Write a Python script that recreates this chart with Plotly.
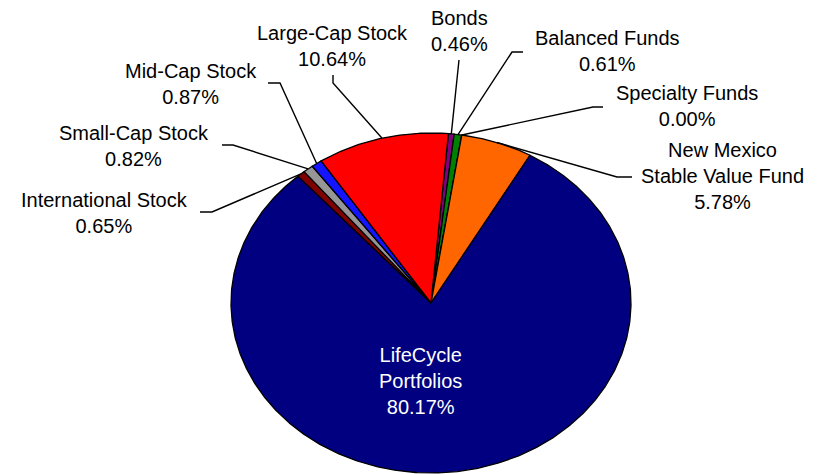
import math
import plotly.graph_objects as go

# ---- data (clockwise from the top) ----
categories = ["Bonds", "Balanced Funds", "Specialty Funds",
              "New Mexico<br>Stable Value Fund", "LifeCycle<br>Portfolios",
              "International Stock", "Small-Cap Stock", "Mid-Cap Stock",
              "Large-Cap Stock"]
values = [0.46, 0.61, 0.00, 5.78, 80.17, 0.65, 0.82, 0.87, 10.64]
colors = ["#800080", "#008000", "#FFFF00", "#FF6600", "#000080",
          "#800000", "#969696", "#1414FF", "#FF0000"]

# ---- layout / style ----
W, H = 817, 474
OFF = 8  # page body margin
CX, CY, RX, RY = 431, 303, 200, 170
START = 5.0  # degrees clockwise from 12 o'clock
FONT = "Liberation Sans, Arial, sans-serif"
FS = 20

# label text centres and leader-line start/elbow points (page pixel space)
label_pos = [(459, 31), (607, 51), (687, 105.5), (722, 176), (420, 381),
             (104, 212.5), (134, 145.5), (191, 84), (332, 45.5)]
leader = [[(459, 60)], [(523, 52), (512, 52)], [(603, 107), (593, 107)],
          [(632, 177), (617, 177)], None,
          [(200, 212), (212, 212)], [(222, 145), (233, 145)],
          [(268, 83), (280, 83)], [(333, 75), (333, 83)]]


def pt(deg):
    r = math.radians(deg)
    return CX + RX * math.sin(r), CY - RY * math.cos(r)


fig = go.Figure()
total = sum(values)
a = START
mids = []
for name, v, c in zip(categories, values, colors):
    span = v / total * 360.0
    a0, a1 = a, a + span
    mids.append((a0 + a1) / 2)
    n = max(2, int(span / 0.5) + 1)
    xs, ys = [CX], [CY]
    for i in range(n + 1):
        x, y = pt(a0 + span * i / n)
        xs.append(x)
        ys.append(y)
    xs.append(CX)
    ys.append(CY)
    fig.add_trace(go.Scatter(x=xs, y=ys, mode="lines", fill="toself",
                             fillcolor=c, line=dict(color="black", width=1.3),
                             hoverinfo="text", text=name.replace("<br>", " "),
                             showlegend=False))
    a = a1

# leader lines
for i, pts in enumerate(leader):
    if pts is None:
        continue
    ex, ey = pt(mids[i])
    xs = [p[0] for p in pts] + [ex]
    ys = [p[1] for p in pts] + [ey]
    fig.add_trace(go.Scatter(x=xs, y=ys, mode="lines",
                             line=dict(color="black", width=1.4),
                             hoverinfo="skip", showlegend=False))

# labels
for i, (name, v) in enumerate(zip(categories, values)):
    lx, ly = label_pos[i]
    col = "white" if name.startswith("LifeCycle") else "black"
    fig.add_annotation(x=lx, y=ly, xref="x", yref="y",
                       text=f"{name}<br>{v:.2f}%", showarrow=False,
                       xanchor="center", yanchor="middle", align="center",
                       font=dict(family=FONT, size=FS, color=col))

fig.update_layout(
    width=W - OFF, height=H - OFF, margin=dict(l=0, r=0, t=0, b=0),
    paper_bgcolor="white", plot_bgcolor="white",
    xaxis=dict(range=[OFF, W], visible=False, fixedrange=True),
    yaxis=dict(range=[H, OFF], visible=False, fixedrange=True),
)

fig.write_html("out.html")
